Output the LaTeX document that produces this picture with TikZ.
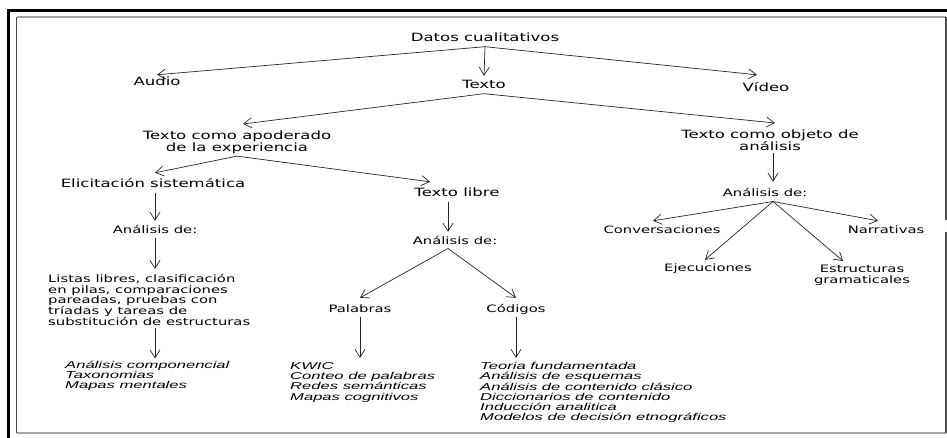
\documentclass[tikz,border=0pt]{standalone}
\usepackage{fontspec}
\newfontfamily\dgfont{DejaVu Sans}[FakeStretch=1.45]
\newfontfamily\itfont{Liberation Sans}[FakeStretch=1.66]
\usetikzlibrary{arrows.meta}

\begin{document}
\begin{tikzpicture}[x=1pt, y=-1pt,
        >={Straight Barb[length=8pt,width=10pt]},
        grande/.style={anchor=base, inner sep=2pt, text height=9pt, text depth=2.5pt, font=\dgfont\fontsize{11.4}{11.5}\selectfont},
        grandeml/.style={anchor=north, inner sep=2pt, align=center, font=\dgfont\fontsize{11.4}{11.7}\selectfont},
        chico/.style={anchor=base, inner sep=2pt, text height=8pt, text depth=2.3pt, font=\dgfont\fontsize{10.2}{11}\selectfont},
        chicoml/.style={inner sep=2pt, font=\dgfont\fontsize{10.2}{10.75}\selectfont},
        lista/.style={anchor=north west, inner sep=2pt, align=left, font=\itfont\itshape\fontsize{10}{10.3}\selectfont},
        flecha/.style={->, line width=0.7pt, draw=black!85}]
        \useasboundingbox (0,0) rectangle (947,438);
        \draw[line width=2.5pt] (8.5,438) -- (8.5,10.5) -- (947,10.5);
        \draw[line width=1.2pt, black!70] (16.5,433) -- (16.5,17);
        \draw[line width=1.2pt, black!35] (16.5,17) -- (946,17);
        \draw[line width=1.2pt, black!35] (16.5,433) -- (946,433);
        \draw[line width=1.2pt, black!70] (946,17) -- (946,220);
        \draw[line width=1.2pt, black!70] (946,232) -- (946,433);

        \node[grande] (datos) at (485,42) {Datos cualitativos};
        \node[grande] (audio) at (157,86) {Audio};
        \node[grande] (texto) at (484,89) {Texto};
        \node[grande] (video) at (766,92) {Vídeo};
        \node[grandeml] (apod) at (237,129) {Texto como apoderado\\de la experiencia};
        \node[grandeml] (objeto) at (770,128) {Texto como objeto de\\análisis};
        \node[grande] (elic) at (153,188) {Elicitación sistemática};
        \node[grande] (libre) at (457,197) {Texto libre};
        \node[chico] (anl) at (155,234) {Análisis de:};
        \node[chico] (anm) at (455,244) {Análisis de:};
        \node[chico] (anr) at (765,197) {Análisis de:};
        \node[chicoml, anchor=north west, align=left] (listas) at (46,272) {Listas libres, clasificación\\en pilas, comparaciones\\pareadas, pruebas con\\tríadas y tareas de\\substitución de estructuras};
        \node[chico] (palabras) at (360,312) {Palabras};
        \node[chico] (codigos) at (516,312) {Códigos};
        \node[chico] (conv) at (662,234) {Conversaciones};
        \node[chico] (narr) at (886,234) {Narrativas};
        \node[chico] (ejec) at (708,272) {Ejecuciones};
        \node[chicoml, anchor=north, align=center] (estr) at (862,263) {Estructuras\\gramaticales};
        \node[lista] (itala) at (63,358.5) {Análisis componencial\\Taxonomias\\Mapas mentales};
        \node[lista] (italb) at (288,360) {KWIC\\Conteo de palabras\\Redes semánticas\\Mapas cognitivos};
        \node[lista] (italc) at (478,360) {Teoria fundamentada\\Análisis de esquemas\\Análisis de contenido clásico\\Diccionarios de contenido\\Inducción analitica\\Modelos de decisión etnográficos};

        \draw[flecha] (datos.south) -- (audio.north);
        \draw[flecha] (datos.south) -- ([yshift=2pt]texto.north);
        \draw[flecha] (datos.south) -- ([xshift=-9pt,yshift=6pt]video.north);
        \draw[flecha] (texto.south) -- ([xshift=6pt,yshift=5pt]apod.north);
        \draw[flecha] (texto.south) -- ([xshift=5pt,yshift=5pt]objeto.north);
        \draw[flecha] (apod.south) -- ([xshift=2pt,yshift=4pt]elic.north);
        \draw[flecha] (apod.south) -- ([xshift=-27pt,yshift=4pt]libre.north);
        \draw[flecha] (elic.south -| anl.north) -- ([yshift=3pt]anl.north);
        \draw[flecha] (anl.south) -- ([yshift=3pt]anl.south |- listas.north);
        \draw[flecha] (anl.south |- listas.south) -- (anl.south |- itala.north);
        \draw[flecha] ([xshift=-9pt]libre.south) -- ([xshift=-9pt,yshift=2pt]libre.south |- anm.north);
        \draw[flecha] ([xshift=-7pt]anm.south) -- ([yshift=4pt]palabras.north);
        \draw[flecha] ([xshift=-7pt]anm.south) -- ([yshift=4pt]codigos.north);
        \draw[flecha] (palabras.south) -- ([yshift=2pt]palabras.south |- italb.north);
        \draw[flecha] (codigos.south) -- ([yshift=2pt]codigos.south |- italc.north);
        \draw[flecha] ([xshift=3pt]objeto.south) -- ([xshift=3pt,yshift=5pt]objeto.south |- anr.north);
        \draw[flecha] ([xshift=8pt]anr.south) -- ([xshift=-9pt,yshift=3pt]conv.north);
        \draw[flecha] ([xshift=8pt]anr.south) -- ([xshift=-8pt,yshift=3pt]narr.north);
        \draw[flecha] ([xshift=8pt]anr.south) -- ([xshift=-3pt,yshift=2pt]ejec.north);
        \draw[flecha] ([xshift=8pt]anr.south) -- ([xshift=-19pt,yshift=2pt]estr.north);
    \end{tikzpicture}
\end{document}
